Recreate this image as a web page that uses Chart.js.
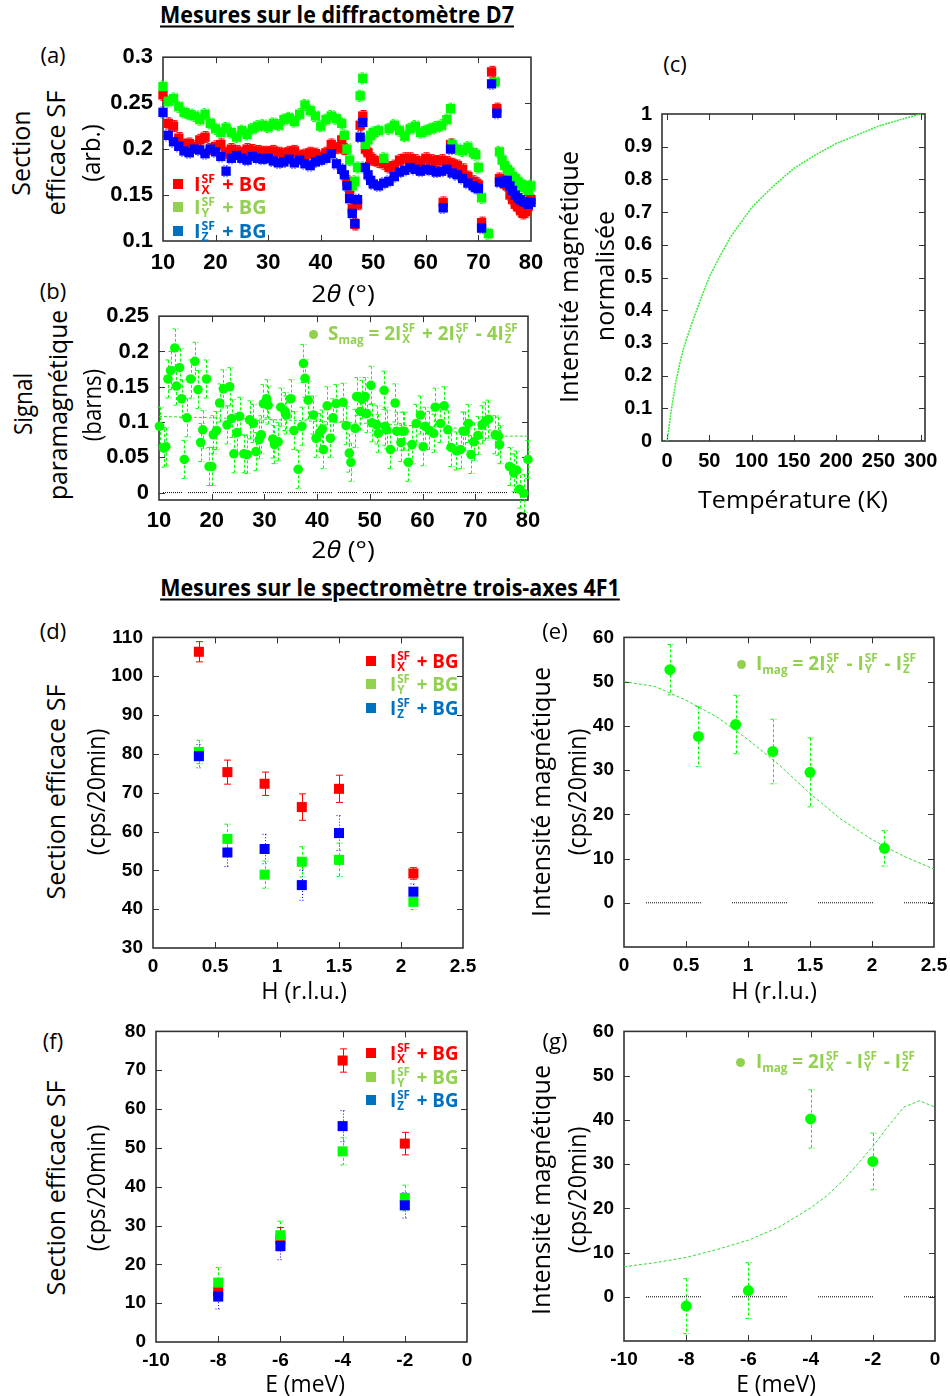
<!DOCTYPE html>
<html><head><meta charset="utf-8">
<script src="https://cdn.jsdelivr.net/npm/chart.js@4.4.1/dist/chart.umd.min.js"></script>
<style>
html,body{margin:0;padding:0;background:#fff;}
body{width:950px;height:1396px;position:relative;overflow:hidden;font-family:"Open Sans",sans-serif;}
canvas{position:absolute;}
.t{position:absolute;white-space:nowrap;line-height:1;color:#000;}
.st{display:inline-flex;flex-direction:column;font-size:0.62em;line-height:0.95;vertical-align:0.68em;margin-left:1px;margin-right:2px;}
.sb{font-size:0.62em;vertical-align:-0.3em;}
.ic{position:absolute;}
</style></head><body>
<script>
// ---------------- DATA ----------------
// (a) D7 SF cross-sections vs 2theta
const A_2THETA = [10,11,12,13,14,15,16,17,18,19,20,21,22,23,24,25,26,27,28,29,30,31,32,33,34,35,36,37,38,39,40,41,42,43,44,
  44.5,45,45.5,46,46.5,47,47.5,48,48.5,49,49.5,50,
  51,52,53,54,55,56,57,58,59,60,61,62,63,63.3,64,64.7,65,66,67,68,69,
  69.5,70,70.6,71.9,72.5,73.2,73.5,74,74.5,75,75.5,76,76.5,77,77.5,78,78.5,79,79.5,80];
const A_IX = [.259,.228,.225,.212,.205,.206,.203,.210,.213,.200,.203,.205,.196,.200,.198,.196,.200,.199,.198,.197,.197,.198,.196,.195,.197,.198,.193,.194,.196,.195,.192,.196,.205,.201,.210,
  .200,.165,.150,.135,.118,.140,.226,.236,.200,.196,.190,.188,
  .186,.184,.180,.182,.188,.190,.190,.188,.186,.190,.188,.187,.188,.142,.186,.205,.184,.182,.178,.170,.165,
  .163,.161,.120,null,.284,null,.244,.168,.165,.162,.160,.150,.145,.140,.137,.133,.130,.132,.138,.145];
const A_IY = [.268,.252,.255,.246,.240,.238,.236,.232,.238,.228,.222,.218,.223,.218,.213,.220,.216,.222,.225,.226,.224,.228,.226,.232,.234,.230,.238,.248,.242,.236,.225,.232,.236,.233,.228,
  .215,.200,.188,.160,.165,.180,.258,.277,.205,.210,.215,.218,
  .220,.190,.222,.226,.220,.214,.222,.225,.218,.220,.222,.224,.226,null,.232,.244,.205,.200,.198,.202,.196,
  .194,.180,.147,.108,null,.273,null,.197,.188,.182,.178,.175,.170,.168,.165,.162,.158,.160,.155,.160];
const A_IZ = [.240,.215,.208,.203,.198,.196,.200,.199,.195,.200,.197,.192,.176,.190,.193,.190,.188,.192,.190,.189,.190,.187,.185,.186,.189,.185,.188,.184,.182,.186,.188,.190,.195,.184,.178,
  .172,.160,.146,.130,.119,.145,.213,.229,.180,.172,.166,.162,
  .160,.163,.165,.170,.175,.177,.180,.178,.176,.178,.177,.175,.176,.136,.178,.200,.174,.172,.168,.163,.160,
  .158,.157,.114,null,.271,null,.239,.164,.165,.163,.166,.160,.155,.150,.147,.145,.143,.142,.140,.142];
const A_ERR = 0.006;
const A_XTICKS = [10,20,30,40,50,60,70,80];
const A_YTICKS = [0.1,0.15,0.2,0.25,0.3];
const A_YLABELS = ['0.1','0.15','0.2','0.25','0.3'];

// (b) paramagnetic signal
const B_2THETA = [10.1,10.9,11.3,11.7,12.2,13.0,13.3,13.9,14.3,14.8,15.3,16.0,16.8,17.4,17.9,18.3,19.0,19.5,20.0,20.3,20.9,21.5,22.2,22.9,23.4,23.8,24.2,24.8,25.3,26.1,26.7,27.2,27.9,28.4,29.0,29.4,29.8,30.4,30.7,31.6,31.9,32.6,33.1,33.9,34.1,35.0,35.6,36.4,37.1,37.4,37.7,38.3,39.3,39.8,40.5,41.0,41.2,41.9,42.5,43.0,43.6,44.9,45.5,46.1,46.4,47.2,47.5,48.2,48.5,49.1,49.4,50.2,50.4,51.3,51.6,52.7,52.9,53.2,53.9,54.8,55.1,55.9,56.2,56.5,57.3,58.0,58.8,59.6,60.1,60.5,61.3,62.1,62.4,63.4,64.1,64.8,65.4,66.4,67.2,67.7,68.1,68.7,69.2,69.7,70.5,71.3,71.9,72.5,73.8,74.4,74.6,76.5,77.3,77.8,78.4,79.2,80.0];
const B_SMAG = [0.094,0.063,0.065,0.161,0.173,0.205,0.151,0.177,0.133,0.047,0.106,0.161,0.186,0.146,0.071,0.089,0.161,0.037,0.037,0.082,0.088,0.127,0.147,0.096,0.150,0.105,0.055,0.085,0.108,0.055,0.054,0.103,0.098,0.058,0.075,0.082,0.126,0.133,0.124,0.076,0.068,0.072,0.121,0.115,0.110,0.133,0.088,0.033,0.094,0.183,0.162,0.131,0.110,0.077,0.085,0.090,0.061,0.123,0.077,0.106,0.126,0.128,0.095,0.056,0.043,0.091,0.136,0.115,0.132,0.136,0.112,0.152,0.099,0.096,0.084,0.145,0.094,0.089,0.061,0.127,0.087,0.071,0.087,0.087,0.043,0.068,0.098,0.110,0.065,0.094,0.088,0.084,0.121,0.098,0.123,0.089,0.064,0.059,0.061,0.087,0.087,0.098,0.054,0.072,0.081,0.096,0.101,0.104,0.082,0.080,0.068,0.037,0.028,0.032,0.005,-0.001,0.047];
const B_ERR = 0.027;
const B_FIT_2THETA = [10,20,30,40,50,60,70,74.8,75.2,80];
const B_FIT_S = [0.108,0.106,0.104,0.101,0.098,0.094,0.090,0.088,0.080,0.080];
const B_YTICKS = [0,0.05,0.1,0.15,0.2,0.25];
const B_YLABELS = ['0','0.05','0.1','0.15','0.2','0.25'];

// (c) normalised magnetic intensity vs temperature
const C_T = [0,5,10,15,20,30,40,50,60,75,100,125,150,175,200,225,250,275,300];
const C_I = [0,0.094,0.176,0.237,0.288,0.365,0.435,0.502,0.553,0.624,0.714,0.778,0.834,0.874,0.910,0.936,0.963,0.982,1.0];
const C_XTICKS = [0,50,100,150,200,250,300];
const C_YTICKS = [0,0.1,0.2,0.3,0.4,0.5,0.6,0.7,0.8,0.9,1];
const C_YLABELS = ['0','0.1','0.2','0.3','0.4','0.5','0.6','0.7','0.8','0.9','1'];

// (d) 4F1 SF cross-sections vs H
const D_H = [0.37,0.6,0.9,1.2,1.5,2.1];
const D_IX = [106.3,75.3,72.3,66.3,71.0,49.2];
const D_IX_ERR = [2.6,3.1,3.0,3.4,3.5,1.5];
const D_IY = [80.5,58.1,48.9,52.2,52.7,41.9];
const D_IY_ERR = [3.0,3.8,3.5,3.9,4.3,2.0];
const D_IZ = [79.4,54.6,55.5,46.2,59.6,44.5];
const D_IZ_ERR = [3.0,3.6,3.8,3.9,4.5,2.0];
const D_XTICKS = [0,0.5,1,1.5,2,2.5];
const D_XLABELS = ['0','0.5','1','1.5','2','2.5'];
const D_YTICKS = [30,40,50,60,70,80,90,100,110];

// (e) magnetic intensity vs H
const E_H = [0.37,0.6,0.9,1.2,1.5,2.1];
const E_IMAG = [52.7,37.6,40.3,34.2,29.5,12.3];
const E_ERR = [5.7,6.8,6.6,7.3,7.8,4.0];
const E_FIT_H = [0,0.25,0.5,0.75,1,1.25,1.5,1.75,2,2.25,2.5];
const E_FIT_I = [50,48.9,45.8,42,36.9,31.2,24.7,18.9,14.3,10.6,7.6];
const E_YTICKS = [0,10,20,30,40,50,60];

// (f) 4F1 SF cross-sections vs E
const F_E = [-8,-6,-4,-2];
const F_IX = [13.0,26.5,72.5,51.1];
const F_IX_ERR = [1.5,3.0,3.0,2.9];
const F_IY = [15.3,27.5,49.1,37.1];
const F_IY_ERR = [3.9,3.6,3.5,3.3];
const F_IZ = [11.7,24.7,55.6,35.2];
const F_IZ_ERR = [3.2,3.5,4.0,3.3];
const F_XTICKS = [-10,-8,-6,-4,-2,0];
const F_YTICKS = [0,10,20,30,40,50,60,70,80];

// (g) magnetic intensity vs E
const G_E = [-8,-6,-4,-2];
const G_IMAG = [-2.1,1.4,40.2,30.6];
const G_ERR = [6.2,6.3,6.6,6.4];
const G_FIT_E = [-10,-9,-8,-7,-6,-5,-4,-3.5,-3,-2.5,-2,-1.5,-1,-0.5,0];
const G_FIT_I = [6.8,7.7,8.9,10.7,12.8,15.8,20.1,22.7,26,29.9,34,38.6,42.9,44.3,42.9];
const G_YTICKS = [0,10,20,30,40,50,60];

// ---------------- STYLE / HELPERS ----------------
const RED='#ff0000', GREEN='#00ff00', BLUE='#0000ff';
const tickFont = s => ({family:'"Liberation Sans", Arial, sans-serif', size:s, weight:'bold'});
const pts = (xs, ys) => xs.map((x,i)=>({x, y:ys[i]})).filter(p=>p.y!==null);
const errs = (ys, e) => ys.filter(v=>v!==null).map((v,i)=>Array.isArray(e)?e[i]:e);
function dots(n, gap){ const a=[]; for(let i=0;i<n;i++){a.push(1,1);} a[a.length-1]=gap; return a; }

const gnuPlugin = {
  id:'gnu',
  beforeDatasetsDraw(chart){
    const {ctx, chartArea:a, scales:{x,y}} = chart;
    ctx.save();
    ctx.strokeStyle='#333'; ctx.lineWidth=1; ctx.setLineDash([]);
    const L=6;
    ctx.beginPath();
    x.ticks.forEach(t=>{ const px=Math.round(x.getPixelForValue(t.value))+0.5;
      if(px<=a.left+2||px>=a.right-2) return;
      ctx.moveTo(px,a.bottom); ctx.lineTo(px,a.bottom-L); ctx.moveTo(px,a.top); ctx.lineTo(px,a.top+L); });
    y.ticks.forEach(t=>{ const py=Math.round(y.getPixelForValue(t.value))+0.5;
      if(py<=a.top+2||py>=a.bottom-2) return;
      ctx.moveTo(a.left,py); ctx.lineTo(a.left+L,py); ctx.moveTo(a.right,py); ctx.lineTo(a.right-L,py); });
    ctx.stroke();
    ctx.lineWidth=1.6; ctx.strokeStyle='#333';
    ctx.strokeRect(a.left, a.top, a.right-a.left, a.bottom-a.top);
    chart.data.datasets.forEach(ds=>{
      if(!ds.errs) return;
      ctx.strokeStyle=ds.errColor||ds.backgroundColor; ctx.lineWidth=1;
      ctx.setLineDash(ds.errDash||[]);
      const c=ds.cap||3;
      ds.data.forEach((p,j)=>{
        const e=ds.errs[j]; if(e==null) return;
        const px=Math.round(x.getPixelForValue(p.x))+0.5;
        const y1=y.getPixelForValue(p.y+e), y2=y.getPixelForValue(p.y-e);
        ctx.beginPath(); ctx.moveTo(px,y1); ctx.lineTo(px,y2);
        ctx.moveTo(px-c,y1); ctx.lineTo(px+c,y1); ctx.moveTo(px-c,y2); ctx.lineTo(px+c,y2);
        ctx.stroke();
      });
    });
    ctx.restore();
  }
};

function panel(P){
  const Yw=80, Xh=46, pT=14, pR=30;
  const W=P.r-P.l, H=P.b-P.t;
  const fs=P.fs||19;
  let cw=W+Yw+pR, chh=H+pT+Xh, ch=null, c=null;
  for(let k=0;k<3;k++){
    if(ch){ ch.destroy(); c.remove(); }
    c=document.createElement('canvas');
    c.width=cw; c.height=chh;
    c.style.width=cw+'px'; c.style.height=chh+'px';
    document.body.appendChild(c);
    ch = new Chart(c.getContext('2d'), {
      type:'scatter',
      data:{datasets:P.datasets},
      options:{
        responsive:false, maintainAspectRatio:false, animation:false, devicePixelRatio:1,
        layout:{padding:{top:pT,right:pR,left:0,bottom:0}},
        plugins:{legend:{display:false}, tooltip:{enabled:false}},
        scales:{
          x:{type:'linear', min:P.xr[0], max:P.xr[1],
             afterBuildTicks:s=>{s.ticks=P.xt.map(v=>({value:v}));},
             afterFit:s=>{s.height=Xh;},
             grid:{display:false, drawTicks:false}, border:{display:false},
             ticks:{padding:P.xpad||8, font:tickFont(fs), color:'#000', maxRotation:0, autoSkip:false,
                    callback:(v,i)=>P.xl?P.xl[i]:String(P.xt[i])}},
          y:{type:'linear', min:P.yr[0], max:P.yr[1],
             afterBuildTicks:s=>{s.ticks=P.yt.map(v=>({value:v}));},
             afterFit:s=>{s.width=Yw;},
             grid:{display:false, drawTicks:false}, border:{display:false},
             ticks:{padding:10, font:tickFont(fs), color:'#000', autoSkip:false,
                    callback:(v,i)=>P.yl?P.yl[i]:String(P.yt[i])}}
        }
      },
      plugins:[gnuPlugin]
    });
    const a=ch.chartArea;
    const dw=W-Math.round(a.right-a.left), dh=H-Math.round(a.bottom-a.top);
    if(dw===0 && dh===0) break;
    cw+=dw; chh+=dh;
  }
  const a=ch.chartArea;
  c.style.left=(P.l-Math.round(a.left))+'px'; c.style.top=(P.t-Math.round(a.top))+'px';
}

function sq(data, color, e, dash, order, r, cap){
  return {data, errs:e, errDash:dash, backgroundColor:color, borderWidth:0, pointStyle:'rect',
          pointRadius:r, pointHoverRadius:r, order, clip:false, cap};
}
function circ(data, color, e, order, r){
  return {data, errs:e, errDash:[3,2], backgroundColor:color, borderWidth:0, pointStyle:'circle',
          pointRadius:r, pointHoverRadius:r, order, clip:false, cap:3};
}
function line(data, color, dash, width, order, offset){
  return {data, showLine:true, pointRadius:0, borderColor:color, borderWidth:width, borderDash:dash,
          borderDashOffset:offset||0, fill:false, order, clip:false};
}

// ---------------- PANELS ----------------
// (a)
panel({l:163,t:57,r:531,b:241, xr:[10,80], yr:[0.1,0.3], xt:A_XTICKS, yt:A_YTICKS, yl:A_YLABELS, xpad:9, fs:22,
  datasets:[
    sq(pts(A_2THETA,A_IZ), BLUE, errs(A_IZ,A_ERR), [1,2], 0, 6.6, 3),
    sq(pts(A_2THETA,A_IY), GREEN, errs(A_IY,A_ERR), [3,2], 1, 6.6, 3),
    sq(pts(A_2THETA,A_IX), RED, errs(A_IX,A_ERR), [], 2, 6.6, 3),
  ]});
// (b)
panel({l:159,t:316,r:528,b:500, xr:[10,80], yr:[-0.0105,0.25], xt:A_XTICKS, yt:B_YTICKS, yl:B_YLABELS, xpad:8, fs:22,
  datasets:[
    circ(pts(B_2THETA,B_SMAG), GREEN, errs(B_SMAG,B_ERR), 0, 4.8),
    line(pts(B_FIT_2THETA,B_FIT_S), '#33dd33', [3,2], 1, 5),
    line([{x:10,y:0},{x:80,y:0}], '#000', dots(10,6), 1, 6, 21),
  ]});
// (c)
panel({l:662,t:114,r:925,b:441, xr:[-6,305], yr:[0,1], xt:C_XTICKS, yt:C_YTICKS, yl:C_YLABELS, xpad:8, fs:20,
  datasets:[
    line(pts(C_T,C_I), '#33ee33', [2,1], 1.5, 0),
  ]});
// (d)
panel({l:153,t:637,r:463,b:948, xr:[0,2.5], yr:[30,110], xt:D_XTICKS, xl:D_XLABELS, yt:D_YTICKS, xpad:7,
  datasets:[
    sq(pts(D_H,D_IZ), BLUE, D_IZ_ERR, [1,2], 0, 7.1, 3),
    sq(pts(D_H,D_IY), GREEN, D_IY_ERR, [3,2], 1, 7.1, 3),
    sq(pts(D_H,D_IX), RED, D_IX_ERR, [], 2, 7.1, 3.5),
  ]});
// (e)
panel({l:624,t:637,r:934,b:947, xr:[0,2.5], yr:[-10,60], xt:D_XTICKS, xl:D_XLABELS, yt:E_YTICKS, xpad:7,
  datasets:[
    circ(pts(E_H,E_IMAG), GREEN, E_ERR, 0, 5.5),
    line(pts(E_FIT_H,E_FIT_I), '#33dd33', [3,2], 1, 5),
    line([{x:0,y:0},{x:2.5,y:0}], '#000', dots(28,31), 1, 6, 64),
  ]});
// (f)
panel({l:156,t:1031,r:467,b:1342, xr:[-10,0], yr:[0,80], xt:F_XTICKS, yt:F_YTICKS, xpad:7,
  datasets:[
    sq(pts(F_E,F_IZ), BLUE, F_IZ_ERR, [1,2], 0, 7.1, 3),
    sq(pts(F_E,F_IY), GREEN, F_IY_ERR, [3,2], 1, 7.1, 3),
    sq(pts(F_E,F_IX), RED, F_IX_ERR, [], 2, 7.1, 3.5),
  ]});
// (g)
panel({l:624,t:1031,r:935,b:1341, xr:[-10,0], yr:[-10,60], xt:F_XTICKS, yt:G_YTICKS, xpad:7,
  datasets:[
    circ(pts(G_E,G_IMAG), GREEN, G_ERR, 0, 5.5),
    line(pts(G_FIT_E,G_FIT_I), '#33dd33', [3,2], 1, 5),
    line([{x:-10,y:0},{x:0,y:0}], '#000', dots(28,31), 1, 6, 64),
  ]});

// ---------------- TEXT ----------------
function txt(html, cx, cy, w, size, o){
  o=o||{};
  const d=document.createElement('div'); d.className='t'; d.innerHTML=html;
  d.style.fontSize=size+'px'; d.style.fontWeight=o.bold?'700':'400';
  d.style.fontFamily=o.font||'"Open Sans", sans-serif';
  if(o.color) d.style.color=o.color;
  if(o.underline){ d.style.textDecoration='underline'; d.style.textDecorationThickness='2px'; d.style.textUnderlineOffset='3px'; }
  document.body.appendChild(d);
  const nat=d.offsetWidth; const s = w ? w/nat : 1;
  d.style.left=cx+'px'; d.style.top=cy+'px';
  if(o.left){ d.style.transformOrigin='0 50%'; d.style.transform='translateY(-50%) scaleX('+s+')'; }
  else d.style.transform='translate(-50%,-50%) '+(o.rot?'rotate(-90deg) ':'')+'scaleX('+s+')';
  return d;
}
function icon(cx, cy, size, color, round){
  const d=document.createElement('div'); d.className='ic';
  d.style.left=(cx-size/2)+'px'; d.style.top=(cy-size/2)+'px';
  d.style.width=size+'px'; d.style.height=size+'px'; d.style.background=color;
  if(round) d.style.borderRadius='50%';
  document.body.appendChild(d);
}
const ss = s => '<span class="st"><span>SF</span><span>'+s+'</span></span>';

// titles
txt('Mesures sur le diffractomètre D7', 337, 14, 354, 23, {bold:true, underline:true});
txt('Mesures sur le spectromètre trois-axes 4F1', 390, 587, 460, 23, {bold:true, underline:true});

// panel letters
[['(a)',53,54],['(b)',53,290],['(c)',675,63],['(d)',53,630],['(e)',555,630],['(f)',53,1040],['(g)',555,1040]]
  .forEach(p=>txt(p[0], p[1], p[2], 0, 22));

// axis titles
txt('Section', 20, 153, 85, 25, {rot:true});
txt('efficace SF', 55, 153, 125, 25, {rot:true});
txt('(arb.)', 90, 153, 58, 25, {rot:true});
txt('Signal', 22, 404, 62, 25, {rot:true});
txt('paramagnétique', 57, 405, 190, 25, {rot:true});
txt('(barns)', 91, 405, 72, 25, {rot:true});
txt('Intensité magnétique', 568, 277, 252, 25, {rot:true});
txt('normalisée', 604, 276, 130, 25, {rot:true});
txt('Section efficace SF', 55, 792, 215, 25, {rot:true});
txt('(cps/20min)', 95, 792, 126, 25, {rot:true});
txt('Intensité magnétique', 540, 792, 250, 25, {rot:true});
txt('(cps/20min)', 576, 792, 126, 25, {rot:true});
txt('Section efficace SF', 55, 1188, 215, 25, {rot:true});
txt('(cps/20min)', 95, 1188, 126, 25, {rot:true});
txt('Intensité magnétique', 540, 1190, 250, 25, {rot:true});
txt('(cps/20min)', 576, 1190, 126, 25, {rot:true});

txt('2<i>θ</i> (°)', 343, 293, 64, 24);
txt('2<i>θ</i> (°)', 343, 549, 64, 24);
txt('Température (K)', 793, 499, 190, 24);
txt('H (r.l.u.)', 304, 990, 86, 24);
txt('H (r.l.u.)', 774, 990, 86, 24);
txt('E (meV)', 305, 1383, 80, 24);
txt('E (meV)', 776, 1383, 80, 24);

// legends
function sqLegend(ix, x0, ys, w){
  const cols=[['#ff0000','#ff0000','X'],['#92d050','#92d050','Y'],['#0070c0','#0070c0','Z']];
  cols.forEach((c,i)=>{
    icon(ix, ys[i], 10, c[0], false);
    txt('I'+ss(c[2])+' + BG', x0, ys[i], w, 19, {bold:true, left:true, color:c[1]});
  });
}
sqLegend(178, 194, [184,207,231], 73);
sqLegend(371, 390, [661,684,708], 69);
sqLegend(371, 390, [1053,1077,1100], 69);

icon(313, 334, 9, '#92d050', true);
txt('S<span class="sb">mag</span> = 2I'+ss('X')+' + 2I'+ss('Y')+' - 4I'+ss('Z'), 328, 334, 192, 19, {bold:true, left:true, color:'#92d050'});
icon(741, 664, 9, '#92d050', true);
txt('I<span class="sb">mag</span> = 2I'+ss('X')+' - I'+ss('Y')+' - I'+ss('Z'), 756, 664, 162, 19, {bold:true, left:true, color:'#92d050'});
icon(740, 1062, 9, '#92d050', true);
txt('I<span class="sb">mag</span> = 2I'+ss('X')+' - I'+ss('Y')+' - I'+ss('Z'), 756, 1062, 161, 19, {bold:true, left:true, color:'#92d050'});
</script>
</body></html>
